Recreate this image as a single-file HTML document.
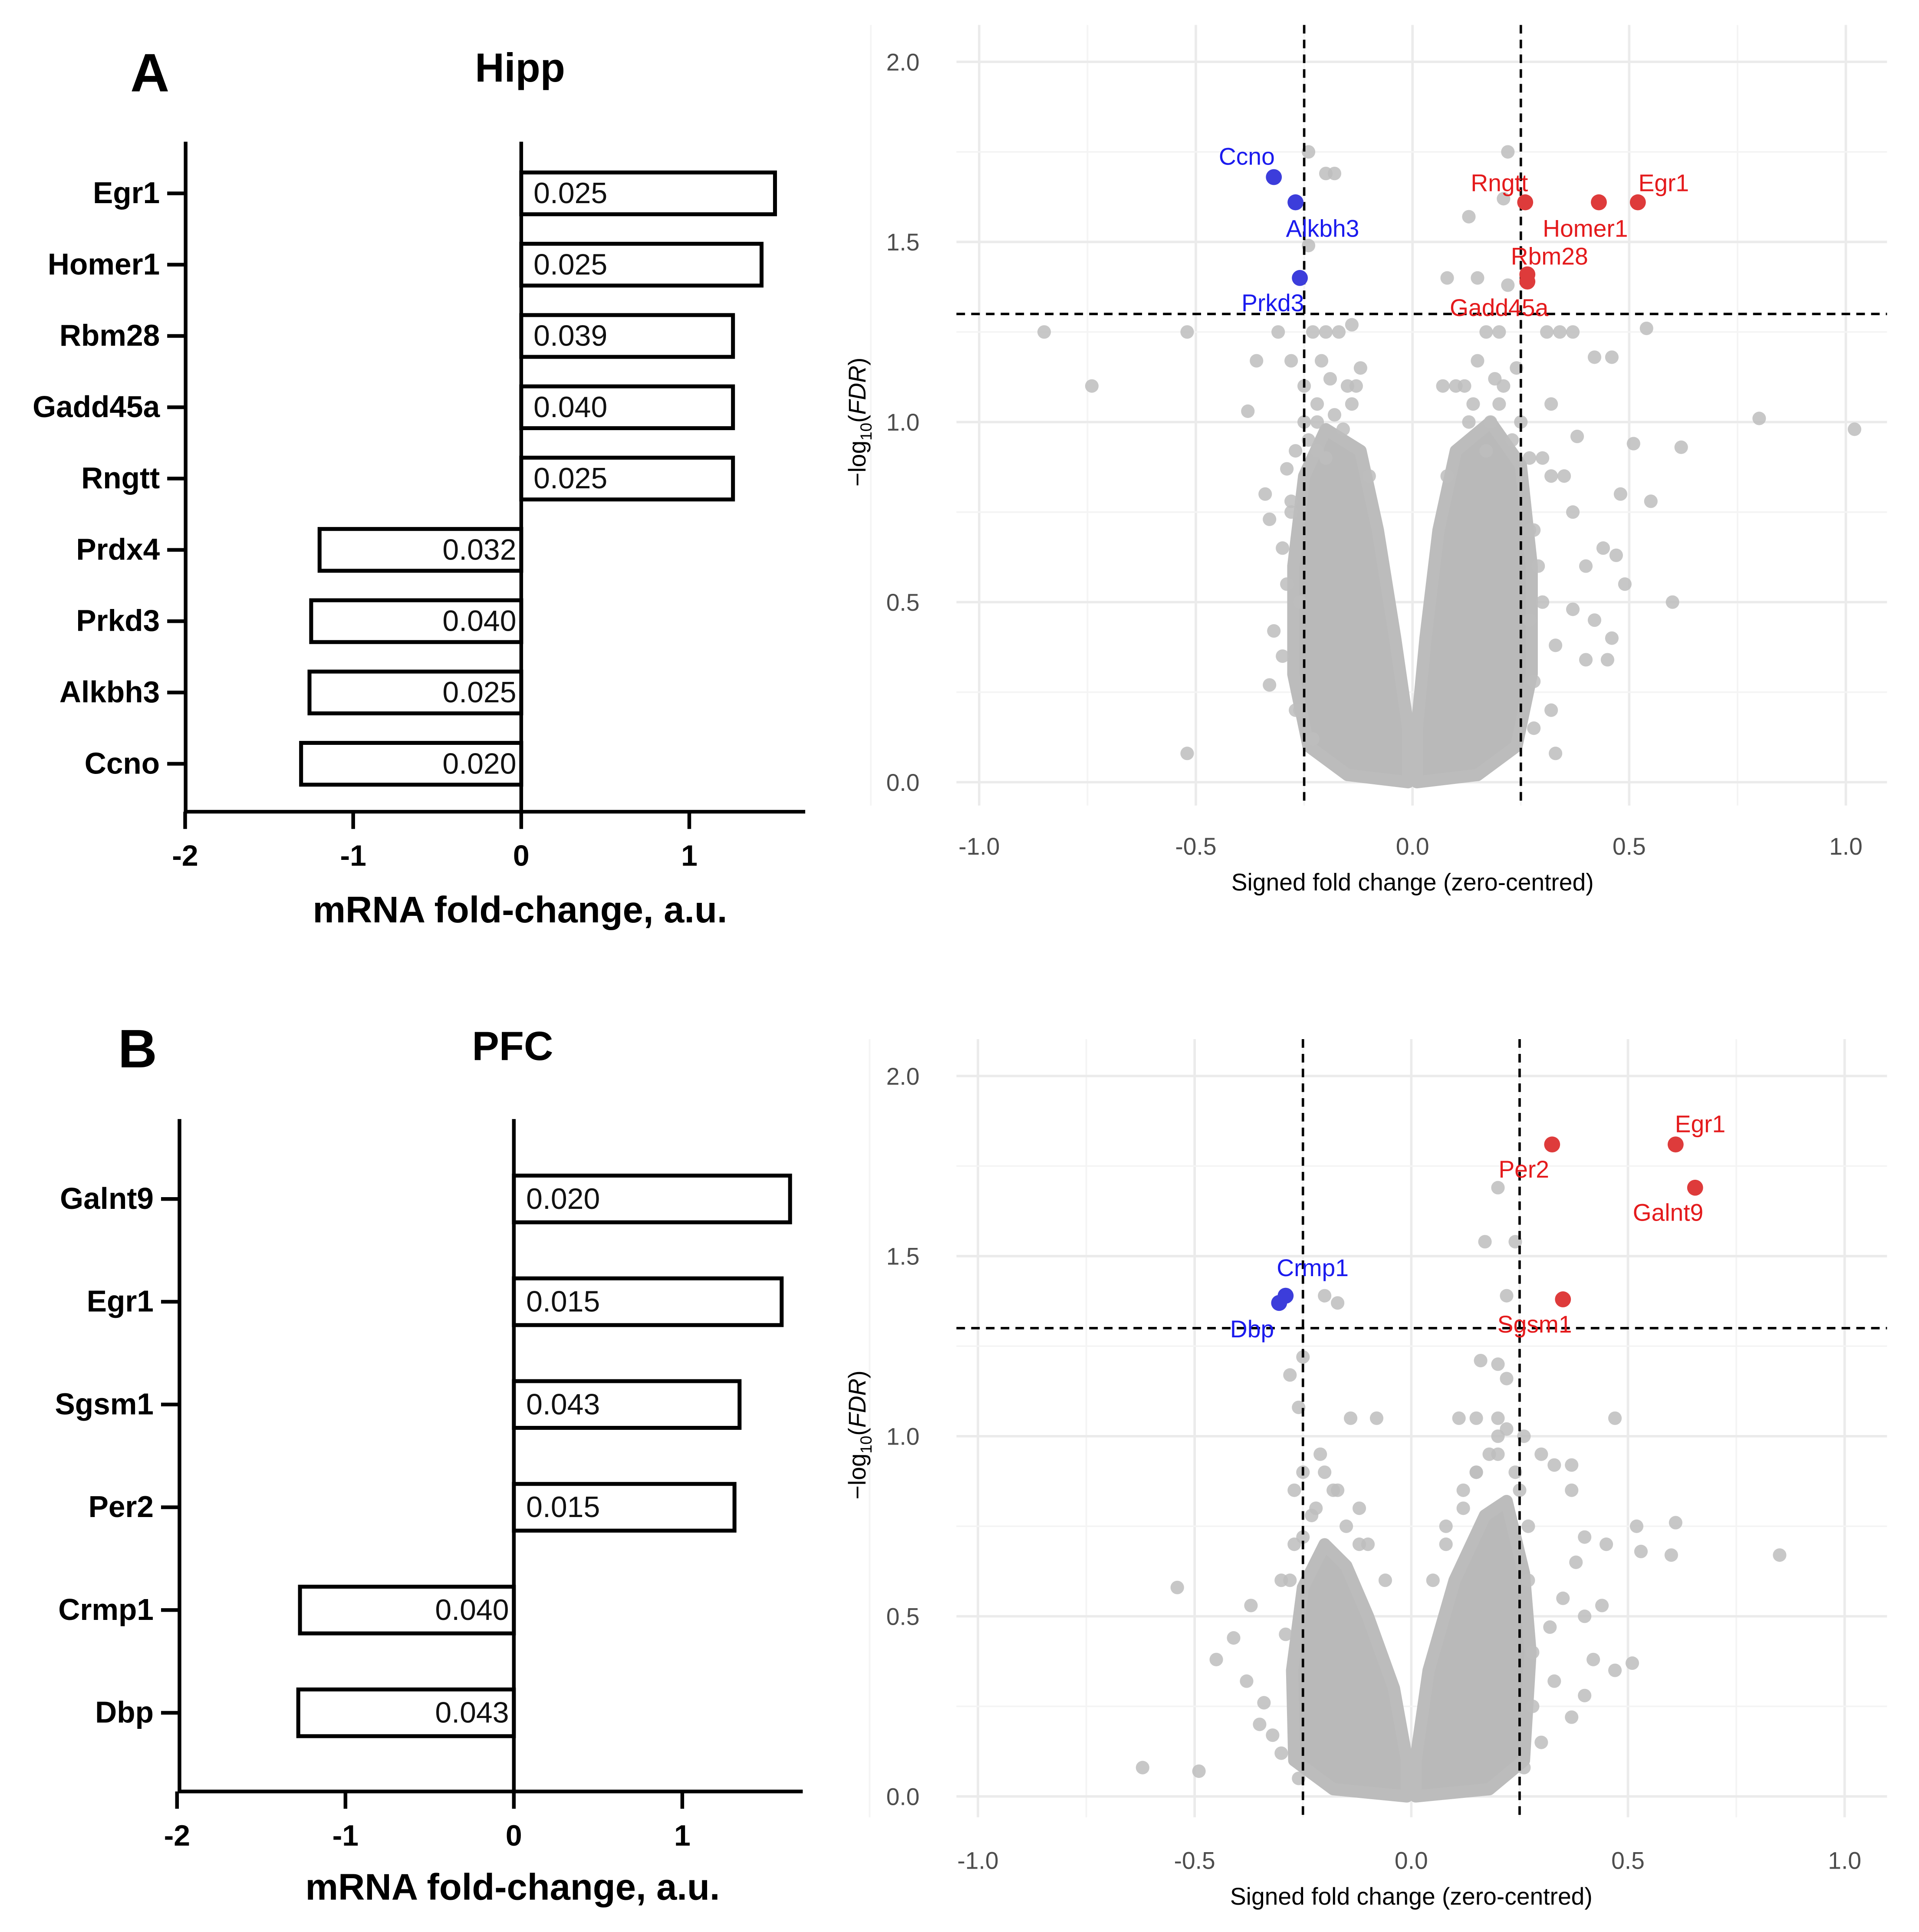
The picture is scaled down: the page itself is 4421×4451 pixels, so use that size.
<!DOCTYPE html>
<html><head><meta charset="utf-8">
<style>
html,body{margin:0;padding:0;background:#fff;}
svg{display:block;}
text{font-family:"Liberation Sans",Arial,sans-serif;}
</style></head>
<body>
<svg id="fig" xmlns="http://www.w3.org/2000/svg" width="4421" height="4451" viewBox="0 0 1561 1571">
<rect x="0" y="0" width="1561" height="1571" fill="#fff"/>
</svg>
<script>
// ---------- Bar chart data ----------
const hippGenes = ["Egr1","Homer1","Rbm28","Gadd45a","Rngtt","Prdx4","Prkd3","Alkbh3","Ccno"];
const hippFold = [1.51,1.43,1.26,1.26,1.26,-1.20,-1.25,-1.26,-1.31];
const hippP = ["0.025","0.025","0.039","0.040","0.025","0.032","0.040","0.025","0.020"];
const pfcGenes = ["Galnt9","Egr1","Sgsm1","Per2","Crmp1","Dbp"];
const pfcFold = [1.64,1.59,1.34,1.31,-1.27,-1.28];
const pfcP = ["0.020","0.015","0.043","0.015","0.040","0.043"];
const barTicks = [-2,-1,0,1];

// ---------- Volcano data ----------
const volTicksX = [-1.0,-0.5,0.0,0.5,1.0];
const volTicksY = [0.0,0.5,1.0,1.5,2.0];
const hippSigGenes = ["Ccno","Alkbh3","Prkd3","Rngtt","Homer1","Egr1","Rbm28","Gadd45a"];
const hippSigFC = [-0.32,-0.27,-0.26,0.26,0.43,0.52,0.265,0.265];
const hippSigFDR = [1.68,1.61,1.40,1.61,1.61,1.61,1.41,1.39];
const hippSigDir = ["down","down","down","up","up","up","up","up"];
const hippBgFC = [-0.85,-0.74,-0.52,-0.52,-0.38,-0.36,-0.34,-0.33,-0.31,-0.30,-0.32,-0.33,-0.29,-0.28,-0.24,-0.20,-0.18,-0.24,-0.23,-0.20,-0.17,-0.14,-0.21,-0.15,-0.13,-0.22,-0.29,-0.30,0.22,0.21,0.13,0.15,0.08,0.22,0.20,0.17,0.15,0.12,0.07,0.31,0.34,0.37,0.54,0.42,0.46,0.80,1.02,0.51,0.62,0.32,0.38,0.35,0.48,0.55,0.37,0.32,0.44,0.47,0.40,0.49,0.60,0.37,0.42,0.46,0.45,0.40,0.33,0.30,0.32,0.33,0.28,0.29,-0.25,-0.25,-0.20,0.25,0.20,0.18,-0.26,-0.23,0.28,0.27,-0.28,0.30,
  -0.24,-0.22,-0.19,-0.16,-0.12,-0.27,-0.28,-0.26,-0.27,0.10,0.13,0.17,0.21,0.24,0.27,0.28,0.27,0.08,-0.10,-0.18,-0.14,0.14,0.19,-0.22,0.23];
const hippBgFDR = [1.25,1.10,1.25,0.08,1.03,1.17,0.80,0.73,1.25,0.65,0.42,0.27,0.87,1.17,1.75,1.69,1.69,1.49,1.25,1.25,1.25,1.27,1.17,1.10,1.10,1.00,0.55,0.35,1.75,1.62,1.57,1.40,1.40,1.38,1.25,1.25,1.17,1.10,1.10,1.25,1.25,1.25,1.26,1.18,1.18,1.01,0.98,0.94,0.93,1.05,0.96,0.85,0.80,0.78,0.75,0.85,0.65,0.63,0.60,0.55,0.50,0.48,0.45,0.40,0.34,0.34,0.38,0.50,0.20,0.08,0.28,0.60,1.10,1.00,0.90,1.00,1.05,1.00,0.20,0.12,0.15,0.70,0.75,0.90,
  0.95,1.05,1.12,0.98,1.15,0.92,0.78,0.50,0.20,1.10,1.00,0.92,1.10,1.15,0.90,0.70,0.45,0.85,0.85,1.02,1.05,1.05,1.12,0.92,0.95];
const hippCloudL_FC = [-0.01,-0.15,-0.24,-0.275,-0.275,-0.25,-0.20,-0.12,-0.08,-0.04,-0.01];
const hippCloudL_FDR = [0.0,0.02,0.10,0.30,0.60,0.85,0.98,0.92,0.70,0.40,0.15];
const hippCloudR_FC = [0.01,0.15,0.24,0.275,0.275,0.25,0.18,0.10,0.06,0.03,0.01];
const hippCloudR_FDR = [0.0,0.02,0.10,0.30,0.60,0.88,1.00,0.92,0.70,0.40,0.15];

const pfcSigGenes = ["Egr1","Galnt9","Per2","Sgsm1","Crmp1","Dbp"];
const pfcSigFC = [0.61,0.655,0.325,0.35,-0.29,-0.305];
const pfcSigFDR = [1.81,1.69,1.81,1.38,1.39,1.37];
const pfcSigDir = ["up","up","up","up","down","down"];
const pfcBgFC = [-0.62,-0.49,-0.54,-0.45,-0.41,-0.37,-0.38,-0.35,-0.34,-0.30,-0.32,-0.30,-0.27,-0.26,-0.28,-0.25,-0.20,-0.17,-0.21,-0.14,-0.08,-0.27,0.20,0.17,0.24,0.22,0.16,0.20,0.22,0.11,0.15,0.20,0.30,0.33,0.37,0.47,0.26,0.37,0.40,0.38,0.45,0.52,0.53,0.61,0.60,0.85,0.44,0.40,0.35,0.32,0.33,0.40,0.37,0.30,0.42,0.47,0.51,0.28,0.27,-0.22,-0.18,-0.15,-0.25,-0.12,0.12,0.15,0.18,0.20,0.24,0.08,-0.29,0.28,-0.26,0.26,
  -0.20,-0.23,-0.17,-0.28,-0.12,0.15,0.12,0.20,0.25,0.08,0.05,-0.06,-0.10,-0.25,0.22,0.27];
const pfcBgFDR = [0.08,0.07,0.58,0.38,0.44,0.53,0.32,0.20,0.26,0.60,0.17,0.12,0.85,1.08,1.17,1.22,1.39,1.37,0.95,1.05,1.05,0.70,1.69,1.54,1.54,1.39,1.21,1.20,1.16,1.05,1.05,1.05,0.95,0.92,0.92,1.05,1.00,0.85,0.72,0.65,0.70,0.75,0.68,0.76,0.67,0.67,0.53,0.50,0.55,0.47,0.32,0.28,0.22,0.15,0.38,0.35,0.37,0.40,0.60,0.80,0.85,0.75,0.72,0.70,0.80,0.90,0.95,1.00,0.90,0.70,0.45,0.25,0.05,0.08,
  0.90,0.78,0.85,0.60,0.80,0.90,0.85,0.95,0.85,0.75,0.60,0.60,0.70,0.90,1.02,0.75];
const pfcCloudL_FC = [-0.01,-0.18,-0.27,-0.275,-0.25,-0.20,-0.15,-0.10,-0.04,-0.01];
const pfcCloudL_FDR = [0.0,0.02,0.10,0.35,0.58,0.70,0.64,0.50,0.30,0.10];
const pfcCloudR_FC = [0.01,0.18,0.26,0.275,0.26,0.22,0.17,0.10,0.04,0.01];
const pfcCloudR_FDR = [0.0,0.02,0.10,0.40,0.62,0.82,0.78,0.60,0.35,0.10];

const NS = "http://www.w3.org/2000/svg";
const svg = document.getElementById("fig");
function mk(tag, attrs, parent, txt){
  const e = document.createElementNS(NS, tag);
  for (const k in attrs) e.setAttribute(k, attrs[k]);
  if (txt !== undefined) e.textContent = txt;
  (parent || svg).appendChild(e);
  return e;
}

// ---------- Bar chart ----------
function barChart(o){
  const g = mk("g", {});
  
  
  const X = v => o.x0 + v * o.unit;
  const Y = i => o.y0 + i * o.step;
  const t1 = mk("text", {x:o.letterX, y:o.letterY, "font-size":44, "font-weight":"bold"}, g, o.letter);
  
  
  const t2 = mk("text", {x:o.titleX, y:o.titleY, "font-size":33, "font-weight":"bold", "text-anchor":"middle"}, g, o.title);
  
  
  o.genes.forEach((gn,i)=>{
    const v = o.vals[i], yc = Y(i);
    const x1 = Math.min(X(0), X(v)), w = Math.abs(X(v)-X(0));
    const r = mk("rect", {x:x1, y:yc-o.bh/2, width:w, height:o.bh, fill:"#fff", stroke:"#000", "stroke-width":3.2}, g);
    
    
    const pos = v >= 0;
    const vt = mk("text", {x: pos ? X(0)+10 : X(0)-4, y: yc+8, "font-size":24, "text-anchor": pos ? "start" : "end", fill:"#111"}, g, o.ps[i]);
    
    
    const tk = mk("line", {x1:o.axX-15, x2:o.axX, y1:yc, y2:yc, stroke:"#000", "stroke-width":3}, g);
    
    
    const lb = mk("text", {x:o.axX-21, y:yc+8, "font-size":24.5, "font-weight":"bold", "text-anchor":"end"}, g, gn);
    
    
  });
  const ya = mk("line", {x1:o.axX, x2:o.axX, y1:o.axTop, y2:o.axBot+1.5, stroke:"#000", "stroke-width":3}, g);
  
  
  const zl = mk("line", {x1:X(0), x2:X(0), y1:o.axTop, y2:o.axBot, stroke:"#000", "stroke-width":3}, g);
  
  
  const xa = mk("line", {x1:o.axX, x2:o.axRight, y1:o.axBot, y2:o.axBot, stroke:"#000", "stroke-width":3}, g);
  
  
  barTicks.forEach(t=>{
    const l = mk("line", {x1:X(t), x2:X(t), y1:o.axBot, y2:o.axBot+14, stroke:"#000", "stroke-width":3}, g);
    
    
    const tt = mk("text", {x:X(t), y:o.axBot+44, "font-size":24, "font-weight":"bold", "text-anchor":"middle"}, g, String(t));
    
    
  });
  const xt = mk("text", {x:o.xTitleX, y:o.xTitleY, "font-size":30, "font-weight":"bold", "text-anchor":"middle"}, g, "mRNA fold-change, a.u.");
  
  
}
barChart({name:"hipp-bar-chart", genes:hippGenes, vals:hippFold, ps:hippP, x0:424, unit:136.7, y0:157, step:58, bh:34,
  axX:151, axTop:115, axBot:660, axRight:655, letter:"A", letterX:106, letterY:74, title:"Hipp", titleX:423, titleY:66, xTitleX:423, xTitleY:750});
barChart({name:"pfc-bar-chart", genes:pfcGenes, vals:pfcFold, ps:pfcP, x0:418, unit:137, y0:975, step:83.6, bh:38,
  axX:146, axTop:910, axBot:1457, axRight:653, letter:"B", letterX:96, letterY:868, title:"PFC", titleX:417, titleY:862, xTitleX:417, xTitleY:1545});

// ---------- Volcano ----------
function volcano(o){
  const g = mk("g", {});
  
  
  const X = v => o.x0 + v * 352.5;
  const Y = v => o.y0 - v * 293;
  for (let v=-1.25; v<=1.26; v+=0.25){
    const major = Math.abs(v*2 - Math.round(v*2)) < 1e-6;
    const l = mk("line", {x1:X(v), x2:X(v), y1:o.top, y2:o.bot, stroke: major ? "#ebebeb" : "#f4f4f4", "stroke-width": major ? 2 : 1.3}, g);
    
    
  }
  for (let v=-0.0; v<=2.01; v+=0.25){
    const major = Math.abs(v*2 - Math.round(v*2)) < 1e-6;
    const l = mk("line", {x1:o.left, x2:o.right, y1:Y(v), y2:Y(v), stroke: major ? "#ebebeb" : "#f4f4f4", "stroke-width": major ? 2 : 1.3}, g);
    
    
  }
  volTicksX.forEach(t=>{
    const tt = mk("text", {x:X(t), y:o.y0+59, "font-size":19.5, fill:"#4d4d4d", "text-anchor":"middle"}, g, t.toFixed(1));
    
    
  });
  volTicksY.forEach(t=>{
    const tt = mk("text", {x:748, y:Y(t)+7, "font-size":19.5, fill:"#4d4d4d", "text-anchor":"end"}, g, t.toFixed(1));
    
    
  });
  const xt = mk("text", {x:X(0), y:o.y0+88, "font-size":19.5, "text-anchor":"middle"}, g, "Signed fold change (zero-centred)");
  
  
  const yt = mk("text", {transform:`translate(704,${o.yTitleY}) rotate(-90)`, "font-size":19.5, "text-anchor":"middle"}, g);
  
  
  mk("tspan", {}, yt, "\u2212log");
  mk("tspan", {"font-size":13, dy:5}, yt, "10");
  mk("tspan", {dy:-5}, yt, "(");
  mk("tspan", {"font-style":"italic"}, yt, "FDR");
  mk("tspan", {}, yt, ")");
  [[o.cLF,o.cLY,'density-cloud-left'],[o.cRF,o.cRY,'density-cloud-right']].forEach(c=>{
    const pts = c[0].map((v,i)=>X(v)+","+Y(c[1][i])).join(" ");
    const p = mk("polygon", {points:pts, fill:"#b9b9b9", stroke:"#bcbcbc", "stroke-width":10, "stroke-linejoin":"round"}, g);
    
    
  });
  o.bgF.forEach((v,i)=>{
    const c = mk("circle", {cx:X(v), cy:Y(o.bgY[i]), r:5.5, fill:"#bdbdbd", "fill-opacity":0.85}, g);
    
    
  });
  [-0.25,0.25].forEach(v=>{
    const l = mk("line", {x1:X(v), x2:X(v), y1:o.top, y2:o.bot, stroke:"#000", "stroke-width":2, "stroke-dasharray":"7,5"}, g);
    
    
  });
  const hl = mk("line", {x1:o.left, x2:o.right, y1:Y(1.3), y2:Y(1.3), stroke:"#000", "stroke-width":2, "stroke-dasharray":"7,5"}, g);
  
  
  o.sigG.forEach((gn,i)=>{
    const up = o.sigD[i] === "up";
    const c = mk("circle", {cx:X(o.sigF[i]), cy:Y(o.sigY[i]), r:6.5, fill: up ? "#de3b3b" : "#3c3ddb"}, g);
    
    
    const t = mk("text", {x:X(o.sigF[i]) + o.ldx[i], y:Y(o.sigY[i]) + o.ldy[i], "font-size":19.5, fill: up ? "#e41a1c" : "#1a1aee", "text-anchor":"middle"}, g, gn);
    
    
  });
}
volcano({name:"hipp-volcano", x0:1149, y0:636, left:778, right:1535, top:20, bot:655, yTitleY:343,
  sigG:hippSigGenes, sigF:hippSigFC, sigY:hippSigFDR, sigD:hippSigDir,
  ldx:[-22,22,-22,-21,-11,21,18,-23], ldy:[-10,28,27,-9,28,-9,-8,28],
  bgF:hippBgFC, bgY:hippBgFDR, cLF:hippCloudL_FC, cLY:hippCloudL_FDR, cRF:hippCloudR_FC, cRY:hippCloudR_FDR});
volcano({name:"pfc-volcano", x0:1148, y0:1461, left:778, right:1535, top:845, bot:1478, yTitleY:1167,
  sigG:pfcSigGenes, sigF:pfcSigFC, sigY:pfcSigFDR, sigD:pfcSigDir,
  ldx:[20,-22,-23,-23,22,-22], ldy:[-10,27,27,27,-16,28],
  bgF:pfcBgFC, bgY:pfcBgFDR, cLF:pfcCloudL_FC, cLY:pfcCloudL_FDR, cRF:pfcCloudR_FC, cRY:pfcCloudR_FDR});
</script>
</body></html>
